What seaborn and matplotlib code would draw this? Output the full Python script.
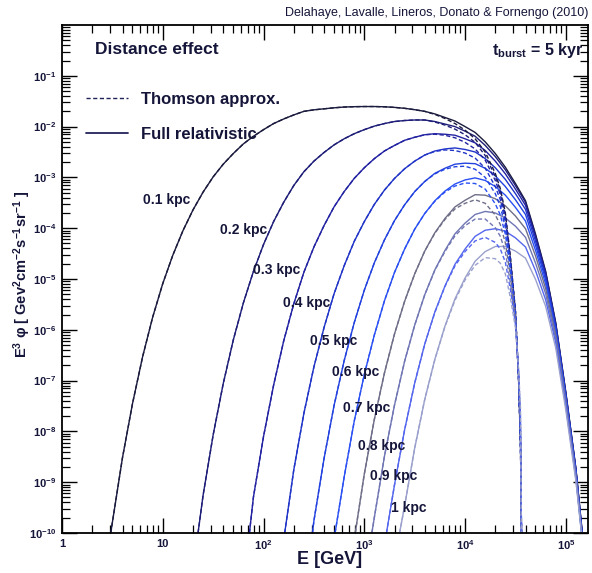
import matplotlib
matplotlib.use("Agg")
import matplotlib.pyplot as plt
import numpy as np
import pandas as pd
import seaborn as sns
from matplotlib.ticker import LogLocator, FixedLocator, FixedFormatter, NullFormatter
from matplotlib.lines import Line2D

# ---------------- data ----------------
distance_labels = ["0.1 kpc", "0.2 kpc", "0.3 kpc", "0.4 kpc", "0.5 kpc",
                   "0.6 kpc", "0.7 kpc", "0.8 kpc", "0.9 kpc", "1 kpc"]

# axis ticks and their labels
x_tick_values = [1, 10, 1e2, 1e3, 1e4, 1e5]
x_tick_labels = ["1", "10", r"$10^{2}$", r"$10^{3}$", r"$10^{4}$", r"$10^{5}$"]
y_tick_values = [1e-10, 1e-9, 1e-8, 1e-7, 1e-6, 1e-5, 1e-4, 1e-3, 1e-2, 1e-1]
y_tick_labels = [r"$10^{-10}$", r"$10^{-9}$", r"$10^{-8}$", r"$10^{-7}$", r"$10^{-6}$",
                 r"$10^{-5}$", r"$10^{-4}$", r"$10^{-3}$", r"$10^{-2}$", r"$10^{-1}$"]

# common log10(E/GeV) sampling grid of the curves
log10_E_grid = [0.5, 0.6, 0.7, 0.8, 0.9, 1.0, 1.1, 1.2, 1.3, 1.4, 1.5, 1.6,
                1.7, 1.8, 1.9, 2.0, 2.1, 2.2, 2.3, 2.4, 2.5, 2.6, 2.7, 2.8,
                2.9, 3.0, 3.1, 3.2, 3.3, 3.4, 3.5, 3.6, 3.7, 3.8, 3.9, 4.0,
                4.1, 4.2, 4.3, 4.4, 4.5, 4.6, 4.7, 4.8, 4.9, 5.0, 5.1]

# energy where each curve enters / leaves the frame at 1e-10
log10_E_onset = [0.484, 1.35, 1.86, 2.21, 2.485, 2.71, 2.91, 3.075, 3.22, 3.35]
log10_E_full_end = [5.164, 5.163, 5.162, 5.161, 5.160, 5.159, 5.158, 5.157, 5.156, 5.155]

# full relativistic: log10(E^3 phi) on the grid, from the first grid point after onset
full_01 = [-9.79, -8.52, -7.45, -6.53, -5.75, -5.09, -4.53, -4.05, -3.64, -3.29, -2.99, -2.74,
           -2.53, -2.34, -2.19, -2.06, -1.94, -1.85, -1.77, -1.70, -1.67, -1.65, -1.63, -1.615,
           -1.608, -1.605, -1.605, -1.61, -1.622, -1.64, -1.667, -1.70, -1.75, -1.82, -1.89, -2.00,
           -2.115, -2.30, -2.53, -2.80, -3.12, -3.46, -4.12, -4.85, -5.86, -7.23, -8.73]
full_02 = [-9.26, -8.07, -7.06, -6.20, -5.47, -4.85, -4.32, -3.87, -3.49, -3.16, -2.89, -2.68,
           -2.51, -2.36, -2.24, -2.14, -2.06, -1.99, -1.94, -1.90, -1.88, -1.87, -1.87, -1.90,
           -1.95, -2.00, -2.09, -2.19, -2.37, -2.59, -2.85, -3.16, -3.49, -4.15, -4.87, -5.88,
           -7.24, -8.74]
full_03 = [-9.29, -8.10, -7.09, -6.22, -5.49, -4.87, -4.37, -3.95, -3.58, -3.28, -3.02, -2.81,
           -2.63, -2.48, -2.37, -2.27, -2.21, -2.16, -2.14, -2.15, -2.17, -2.24, -2.32, -2.47,
           -2.68, -2.93, -3.23, -3.55, -4.19, -4.91, -5.90, -7.26, -8.75]
full_04 = [-8.76, -7.65, -6.73, -5.96, -5.29, -4.74, -4.26, -3.87, -3.53, -3.25, -3.02, -2.83,
           -2.68, -2.56, -2.48, -2.44, -2.42, -2.45, -2.50, -2.63, -2.81, -3.04, -3.32, -3.63,
           -4.26, -4.96, -5.94, -7.28, -8.77]
full_05 = [-9.76, -8.54, -7.49, -6.61, -5.86, -5.22, -4.68, -4.23, -3.85, -3.54, -3.28, -3.08,
           -2.92, -2.82, -2.74, -2.72, -2.73, -2.82, -2.97, -3.18, -3.44, -3.73, -4.34, -5.02,
           -5.98, -7.31, -8.79]
full_06 = [-8.90, -7.80, -6.88, -6.10, -5.43, -4.87, -4.41, -4.02, -3.71, -3.46, -3.27, -3.13,
           -3.05, -3.01, -3.06, -3.18, -3.35, -3.59, -3.86, -4.44, -5.10, -6.04, -7.35, -8.82]
full_07 = [-8.84, -7.76, -6.85, -6.08, -5.44, -4.90, -4.45, -4.09, -3.81, -3.58, -3.45, -3.34,
           -3.35, -3.42, -3.56, -3.76, -4.01, -4.55, -5.19, -6.10, -7.40, -8.85]
full_08 = [-9.69, -8.49, -7.48, -6.62, -5.91, -5.31, -4.82, -4.44, -4.11, -3.90, -3.73, -3.67,
           -3.70, -3.80, -3.96, -4.18, -4.69, -5.29, -6.18, -7.45, -8.89]
full_09 = [-9.05, -7.97, -7.05, -6.28, -5.65, -5.14, -4.71, -4.41, -4.16, -4.04, -4.01, -4.06,
           -4.19, -4.37, -4.84, -5.41, -6.26, -7.51, -8.93]
full_10 = [-9.47, -8.33, -7.37, -6.58, -5.93, -5.39, -4.98, -4.65, -4.46, -4.36, -4.36, -4.45,
           -4.59, -5.01, -5.54, -6.36, -7.58, -8.98]

# Thomson approximation: identical to the full curve up to log10E = 3.6, then this tail
log10_E_thomson_tail = [3.7, 3.8, 3.9, 4.0, 4.1, 4.2, 4.3, 4.35, 4.4, 4.45, 4.5, 4.53, 4.55, 4.56]
thomson_01 = [-1.76, -1.84, -1.94, -2.07, -2.24, -2.50, -2.92, -3.22, -3.70, -4.56, -5.62, -6.92, -8.29, -10]
thomson_02 = [-1.91, -1.97, -2.05, -2.16, -2.31, -2.57, -2.98, -3.26, -3.74, -4.59, -5.63, -6.92, -8.27, -10]
thomson_03 = [-2.15, -2.17, -2.22, -2.31, -2.44, -2.66, -3.06, -3.34, -3.80, -4.63, -5.65, -6.91, -8.23, -10]
thomson_04 = [-2.49, -2.46, -2.47, -2.52, -2.62, -2.82, -3.18, -3.44, -3.89, -4.68, -5.67, -6.89, -8.18, -10]
thomson_05 = [-2.93, -2.84, -2.79, -2.78, -2.84, -3.00, -3.32, -3.57, -3.99, -4.76, -5.70, -6.88, -8.11, -10]
thomson_06 = [-3.47, -3.29, -3.17, -3.11, -3.12, -3.23, -3.52, -3.74, -4.12, -4.85, -5.74, -6.85, -8.03, -10]
thomson_07 = [-4.10, -3.83, -3.62, -3.51, -3.44, -3.51, -3.74, -3.93, -4.29, -4.95, -5.78, -6.83, -7.93, -10]
thomson_08 = [-4.83, -4.46, -4.15, -3.95, -3.82, -3.82, -3.99, -4.16, -4.47, -5.08, -5.83, -6.80, -7.81, -10]
thomson_09 = [-5.66, -5.15, -4.74, -4.46, -4.25, -4.18, -4.28, -4.41, -4.67, -5.21, -5.89, -6.76, -7.68, -10]
thomson_10 = [-6.59, -5.94, -5.42, -5.02, -4.73, -4.58, -4.60, -4.69, -4.90, -5.37, -5.96, -6.73, -7.54, -10]

full_curves = [full_01, full_02, full_03, full_04, full_05,
               full_06, full_07, full_08, full_09, full_10]
thomson_tails = [thomson_01, thomson_02, thomson_03, thomson_04, thomson_05,
                 thomson_06, thomson_07, thomson_08, thomson_09, thomson_10]

FLOOR = -10.0
SHARED_UP_TO = 3.6

# ---------------- styling ----------------
curve_colors = ["#1b1b3e", "#1e1e78", "#2222a2", "#2034c8", "#2242e0",
                "#2a50f4", "#6e6e88", "#7076b4", "#5466ee", "#9aa0cc"]
text_color = "#15153a"

# ---------------- assemble long-form tables ----------------
rows_full, rows_th = [], []
for lab, onset, end, vals, tail in zip(distance_labels, log10_E_onset, log10_E_full_end,
                                       full_curves, thomson_tails):
    grid = log10_E_grid[len(log10_E_grid) - len(vals):]
    xs = [onset] + list(grid) + [end]
    ys = [FLOOR] + list(vals) + [FLOOR]
    for x, y in zip(xs, ys):
        rows_full.append((lab, 10 ** x, 10 ** y))
    shared = [(x, y) for x, y in zip(xs, ys) if x <= SHARED_UP_TO]
    for x, y in shared + list(zip(log10_E_thomson_tail, tail)):
        rows_th.append((lab, 10 ** x, 10 ** y))

df_full = pd.DataFrame(rows_full, columns=["distance", "E", "flux"])
df_th = pd.DataFrame(rows_th, columns=["distance", "E", "flux"])

# ---------------- figure ----------------
sns.set_theme(style="ticks")
plt.rcParams["font.family"] = ["Liberation Sans", "DejaVu Sans"]
plt.rcParams["font.weight"] = "bold"
plt.rcParams["axes.labelweight"] = "bold"
plt.rcParams["mathtext.fontset"] = "custom"
plt.rcParams["mathtext.rm"] = "Liberation Sans:bold"
plt.rcParams["mathtext.it"] = "Liberation Sans:bold"
plt.rcParams["mathtext.bf"] = "Liberation Sans:bold"
plt.rcParams["mathtext.default"] = "rm"

W, H = 592, 573
fig = plt.figure(figsize=(W / 100, H / 100), dpi=100)
ax = fig.add_axes([62 / W, 1 - 533 / H, (588 - 62) / W, (533 - 25) / H])

palette = dict(zip(distance_labels, curve_colors))
sns.lineplot(data=df_full, x="E", y="flux", hue="distance", palette=palette,
             estimator=None, sort=False, legend=False, lw=1.0, ax=ax)
sns.lineplot(data=df_th, x="E", y="flux", hue="distance", palette=palette,
             estimator=None, sort=False, legend=False, lw=1.0,
             linestyle=(0, (3, 1.8)), ax=ax)

ax.set_xscale("log")
ax.set_yscale("log")
ax.set_xlim(1, 1.66e5)
ax.set_ylim(1e-10, 1)

for sp in ax.spines.values():
    sp.set_linewidth(1.3)
    sp.set_color("black")

ax.xaxis.set_major_locator(FixedLocator(x_tick_values))
ax.xaxis.set_major_formatter(FixedFormatter(x_tick_labels))
ax.yaxis.set_major_locator(FixedLocator(y_tick_values))
ax.yaxis.set_major_formatter(FixedFormatter(y_tick_labels))
ax.xaxis.set_minor_locator(LogLocator(base=10, subs=range(2, 10), numticks=40))
ax.yaxis.set_minor_locator(LogLocator(base=10, subs=range(2, 10), numticks=40))
ax.xaxis.set_minor_formatter(NullFormatter())
ax.yaxis.set_minor_formatter(NullFormatter())

ax.tick_params(which="both", direction="in", top=True, right=True,
               colors="black", labelcolor=text_color, labelsize=8)
ax.tick_params(which="major", length=11, width=1.0, pad=4)
ax.tick_params(which="minor", length=5.5, width=0.9)

ax.set_xlabel("E [GeV]", fontsize=13, color=text_color, va="center")
ax.xaxis.set_label_coords(0.508, -0.052)
ax.set_ylabel("E$^{3}$ φ [ Gev$^{2}$cm$^{-2}$s$^{-1}$sr$^{-1}$ ]", fontsize=10.5,
              color=text_color, va="center")
ax.yaxis.set_label_coords(-0.076, 0.51)

# legend
handles = [Line2D([], [], color="#22225a", lw=1.0, linestyle=(0, (3, 1.8))),
           Line2D([], [], color="#22225a", lw=1.3)]
ax.legend(handles, ["Thomson approx.", "Full relativistic"], loc="upper left",
          bbox_to_anchor=(86 / W, 1 - 92 / H), bbox_transform=fig.transFigure,
          frameon=False, fontsize=12, handlelength=2.5, handletextpad=0.8,
          labelspacing=1.2, borderpad=0, borderaxespad=0, labelcolor=text_color)

# annotations
fig.text(95 / W, 1 - 50 / H, "Distance effect", fontsize=12.5, color=text_color,
         ha="left", va="center")
fig.text(583 / W, 1 - 50 / H, r"$t_{burst}$ = 5 kyr", fontsize=11.5, color=text_color,
         ha="right", va="center")
fig.text(588 / W, 1 - 13 / H, "Delahaye, Lavalle, Lineros, Donato & Fornengo (2010)",
         fontsize=9, fontweight="normal", color=text_color, ha="right", va="center")

label_pixels = [(143, 200), (220, 230), (253, 270), (283, 303), (310, 341),
                (332, 372), (343, 408), (358, 446), (370, 476), (391, 508)]
for lab, (px, py) in zip(distance_labels, label_pixels):
    fig.text(px / W, 1 - py / H, lab, fontsize=10, color=text_color,
             ha="left", va="center")

fig.savefig("out.png", dpi=100)
